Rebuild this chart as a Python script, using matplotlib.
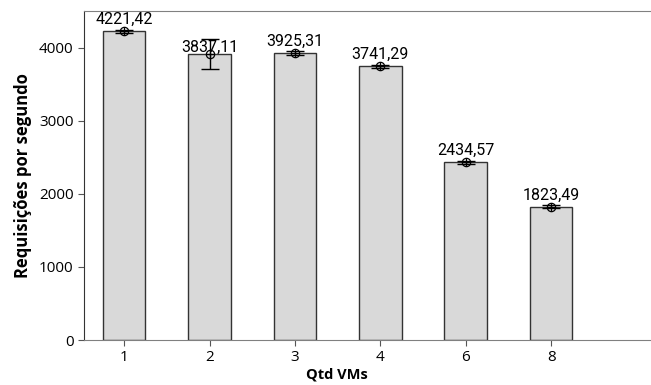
import numpy as np
import matplotlib
matplotlib.use('Agg')
import matplotlib.pyplot as plt

# data
vms = ['1', '2', '3', '4', '6', '8']
reqs = [4221, 3907, 3925, 3741, 2434, 1823]
errs = [25, 205, 25, 15, 20, 20]
bar_labels = ['4221,42', '3837,11', '3925,31', '3741,29', '2434,57', '1823,49']

plt.rcParams['font.family'] = ['Open Sans', 'DejaVu Sans']

fig = plt.figure(figsize=(6.51, 3.85), dpi=100)
ax = fig.add_axes([84/651, 1-340/385, 1-84/651, (340-11)/385])

x = np.arange(len(vms))
ax.bar(x, reqs, width=0.5, color='#d9d9d9', edgecolor='#333333', linewidth=1.0, zorder=2)
ax.errorbar(x, reqs, yerr=errs, fmt='none', ecolor='black', elinewidth=1.0, capsize=6.5, zorder=3)
ax.plot(x, reqs, 'o', mfc='none', mec='black', ms=6, mew=0.9, zorder=4)
ax.plot(x, reqs, '+', color='black', ms=6, mew=0.9, zorder=4)

#### labels sit on the value written in them
for i, lab in enumerate(bar_labels):
    yv = float(lab.replace(',', '.'))
    ax.annotate(lab, (x[i], yv), xytext=(0, 3), textcoords='offset points',
                ha='center', va='bottom', fontsize=11.5, family=['Roboto', 'DejaVu Sans'])

ax.set_xlim(-0.47, 6.17)
ax.set_ylim(0, 4500)
ax.set_xticks(x)
ax.set_xticklabels(vms)
ax.set_yticks([0, 1000, 2000, 3000, 4000])
ax.tick_params(labelsize=11, color='#555555', length=4)
ax.set_xlabel('Qtd VMs', fontsize=10.5, fontweight='bold', labelpad=1)
ax.xaxis.set_label_coords((337-84)/(651-84), -0.085)
ax.set_ylabel('Requisições por segundo', fontsize=12, fontweight='bold', labelpad=5)

ax.spines['right'].set_visible(False)
ax.spines['top'].set_color('#808080')
ax.spines['bottom'].set_color('#808080')
ax.spines['left'].set_color('#333333')

plt.savefig('out.png', dpi=100)
